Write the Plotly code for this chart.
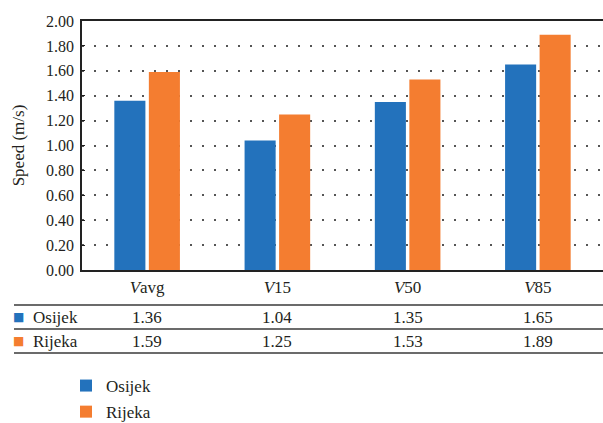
import plotly.graph_objects as go

categories = ["Vavg", "V15", "V50", "V85"]
tick_labels = ["<i>V</i>avg", "<i>V</i>15", "<i>V</i>50", "<i>V</i>85"]
osijek = [1.36, 1.04, 1.35, 1.65]
rijeka = [1.59, 1.25, 1.53, 1.89]
series_names = ["Osijek", "Rijeka"]
colors = ["#2372BC", "#F47D30"]
y_ticks = [0.0, 0.2, 0.4, 0.6, 0.8, 1.0, 1.2, 1.4, 1.6, 1.8, 2.0]

FONT = "Liberation Serif"
TXT = "#231F20"

W, H = 603, 423
ML, MR, MT, MB = 82, 0, 21, 153
plot_h = H - MT - MB
plot_w = W - ML - MR

def py(px):  # pixel y -> paper y
    return (H - MB - px) / plot_h

def pxx(px):  # pixel x -> paper x
    return (px - ML) / plot_w

fig = go.Figure()
for i, (name, vals) in enumerate(zip(series_names, [osijek, rijeka])):
    fig.add_trace(go.Bar(
        x=categories, y=vals, name=name, marker_color=colors[i],
        marker_line_width=0, legendgroup=name,
    ))

# data table below the chart
row_y = [py(317), py(341)]
for r, (name, vals) in enumerate(zip(series_names, [osijek, rijeka])):
    fig.add_annotation(x=pxx(18), y=row_y[r], xref="paper", yref="paper",
                       text="■", showarrow=False, xanchor="center", yanchor="middle",
                       font=dict(family="DejaVu Sans", size=12, color=colors[r]))
    fig.add_annotation(x=pxx(31), y=row_y[r], xref="paper", yref="paper",
                       text=name, showarrow=False, xanchor="left", yanchor="middle",
                       font=dict(family=FONT, size=17, color=TXT))
    for c, v in zip(categories, vals):
        fig.add_annotation(x=c, y=row_y[r], xref="x", yref="paper",
                           text=f"{v:.2f}", showarrow=False, xanchor="center",
                           yanchor="middle", font=dict(family=FONT, size=17, color=TXT))

for ly in [305, 329, 353]:
    fig.add_shape(type="line", xref="paper", yref="paper",
                  x0=pxx(14), x1=1, y0=py(ly), y1=py(ly),
                  line=dict(color="#3a3a3a", width=1.5))

fig.update_layout(
    width=W, height=H,
    margin=dict(l=ML, r=MR, t=MT, b=MB, autoexpand=False),
    paper_bgcolor="white", plot_bgcolor="white",
    barmode="group", bargap=0.47, bargroupgap=0.1,
    font=dict(family=FONT, size=16, color=TXT),
    legend=dict(x=pxx(66), y=py(368), xanchor="left", yanchor="top",
                traceorder="grouped", tracegroupgap=1,
                font=dict(family=FONT, size=17, color=TXT),
                bgcolor="rgba(0,0,0,0)"),
    showlegend=True,
)
fig.update_xaxes(
    range=[-0.5, 3.5], tickvals=categories, ticktext=tick_labels,
    tickfont=dict(family=FONT, size=17, color=TXT),
    showline=True, linecolor="#222222", linewidth=2, mirror=True,
    showgrid=False, ticks="", ticklabelstandoff=1,
)
fig.update_yaxes(
    range=[0, 2.0], tickvals=y_ticks, ticktext=[f"{t:.2f}" for t in y_ticks],
    tickfont=dict(family=FONT, size=16, color=TXT),
    showline=True, linecolor="#222222", linewidth=1.5,
    showgrid=True, gridcolor="#555555", gridwidth=1.5, griddash="2px,10px",
    zeroline=False, ticks="inside", ticklen=3, tickcolor="#222222",
    ticklabelstandoff=3,
    title=dict(text="Speed (m/s)", font=dict(family=FONT, size=17, color=TXT), standoff=17),
)

fig.write_html(
    "out.html",
    config={"displayModeBar": False},
    post_script="document.body.style.margin='0';document.body.style.overflow='hidden';",
)
